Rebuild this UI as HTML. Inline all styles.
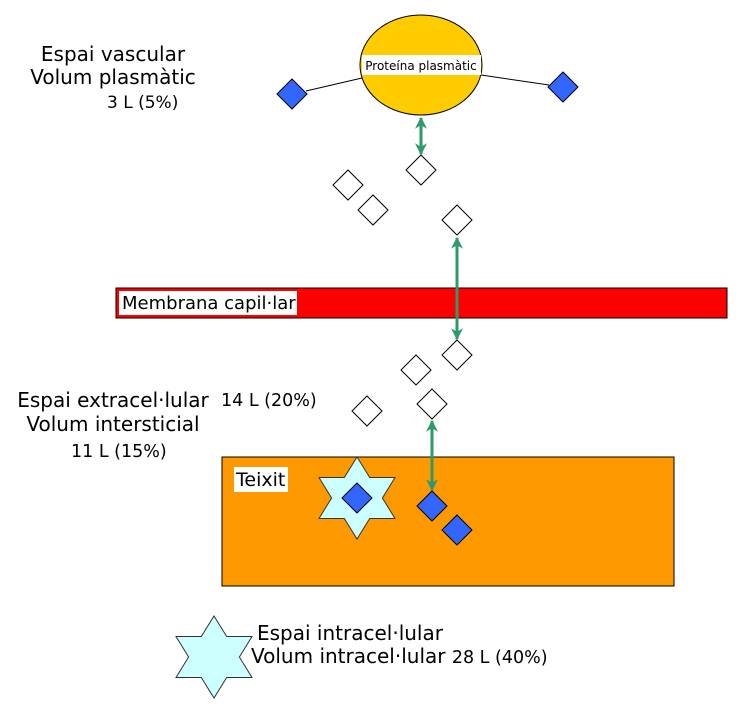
<!DOCTYPE html>
<html><head><meta charset="utf-8"><style>
html,body{margin:0;padding:0;background:#fff}
svg{display:block;font-family:"DejaVu Sans","Liberation Sans",sans-serif}
</style></head><body>
<svg width="742" height="714" viewBox="0 0 742 714" xmlns="http://www.w3.org/2000/svg">
<defs>
<marker id="ah" viewBox="0 0 10 10" refX="9" refY="5" markerWidth="4" markerHeight="5" orient="auto-start-reverse" markerUnits="strokeWidth">
<path d="M0,0 L10,5 L0,10 L3,5 z" fill="#2e9a6a"/></marker>
<symbol id="star" overflow="visible"><polygon points="0,-41 12.7,-20.5 38,-20.5 25.4,0 38,20.5 12.7,20.5 0,41 -12.7,20.5 -38,20.5 -25.4,0 -38,-20.5 -12.7,-20.5" fill="#ccffff" stroke="#333" stroke-width="1"/></symbol>
<symbol id="dw" overflow="visible"><polygon points="0,-15 15,0 0,15 -15,0" fill="#fff" stroke="#000" stroke-width="1"/></symbol>
<symbol id="db" overflow="visible"><polygon points="0,-15 15,0 0,15 -15,0" fill="#3366ff" stroke="#000" stroke-width="1"/></symbol>
</defs>

<text x="113" y="61" font-size="20" text-anchor="middle">Espai vascular</text>
<text x="113" y="84" font-size="20" text-anchor="middle">Volum plasmàtic</text>
<text x="107" y="108" font-size="17">3 L (5%)</text>

<line x1="306" y1="91" x2="362" y2="78" stroke="#000"/>
<line x1="481" y1="75" x2="549" y2="85" stroke="#000"/>
<ellipse cx="421" cy="65" rx="61" ry="50" fill="#ffcc00" stroke="#000"/>
<rect x="362" y="55" width="119" height="20" fill="#fff"/>
<text x="421" y="70" font-size="12" text-anchor="middle">Proteína plasmàtic</text>
<use href="#db" x="292" y="94"/>
<use href="#db" x="563" y="87"/>

<line x1="421" y1="118" x2="421" y2="154" stroke="#2e9a6a" stroke-width="3" marker-start="url(#ah)" marker-end="url(#ah)"/>
<use href="#dw" x="421" y="170"/>
<use href="#dw" x="348" y="185"/>
<use href="#dw" x="373" y="210"/>
<use href="#dw" x="457" y="220"/>

<rect x="116" y="288" width="611" height="30" fill="#ff0000" stroke="#000"/>
<rect x="119" y="291" width="178" height="24" fill="#fff"/>
<text x="122" y="309" font-size="18">Membrana capil·lar</text>

<line x1="457" y1="238" x2="457" y2="339" stroke="#2e9a6a" stroke-width="3" marker-start="url(#ah)" marker-end="url(#ah)"/>
<use href="#dw" x="457" y="355"/>
<use href="#dw" x="416" y="370"/>
<use href="#dw" x="432" y="404"/>
<use href="#dw" x="367" y="411"/>

<text x="113" y="407" font-size="20" text-anchor="middle">Espai extracel·lular</text>
<text x="113" y="431" font-size="20" text-anchor="middle">Volum intersticial</text>
<text x="221" y="406" font-size="17.5">14 L (20%)</text>
<text x="71" y="457" font-size="17.5">11 L (15%)</text>

<rect x="222" y="457" width="452" height="129" fill="#ff9900" stroke="#000"/>
<rect x="234" y="467" width="54" height="25" fill="#fff"/>
<text x="236" y="486" font-size="19">Teixit</text>
<use href="#star" x="357" y="498"/>
<use href="#db" x="357" y="498"/>
<line x1="432" y1="421" x2="432" y2="490" stroke="#2e9a6a" stroke-width="3" marker-start="url(#ah)" marker-end="url(#ah)"/>
<use href="#db" x="432" y="506"/>
<use href="#db" x="457" y="530"/>

<use href="#star" x="214" y="657"/>
<text x="257" y="640" font-size="20">Espai intracel·lular</text>
<text x="251" y="663" font-size="20">Volum intracel·lular <tspan font-size="17.5">28 L (40%)</tspan></text>
</svg>
</body></html>
